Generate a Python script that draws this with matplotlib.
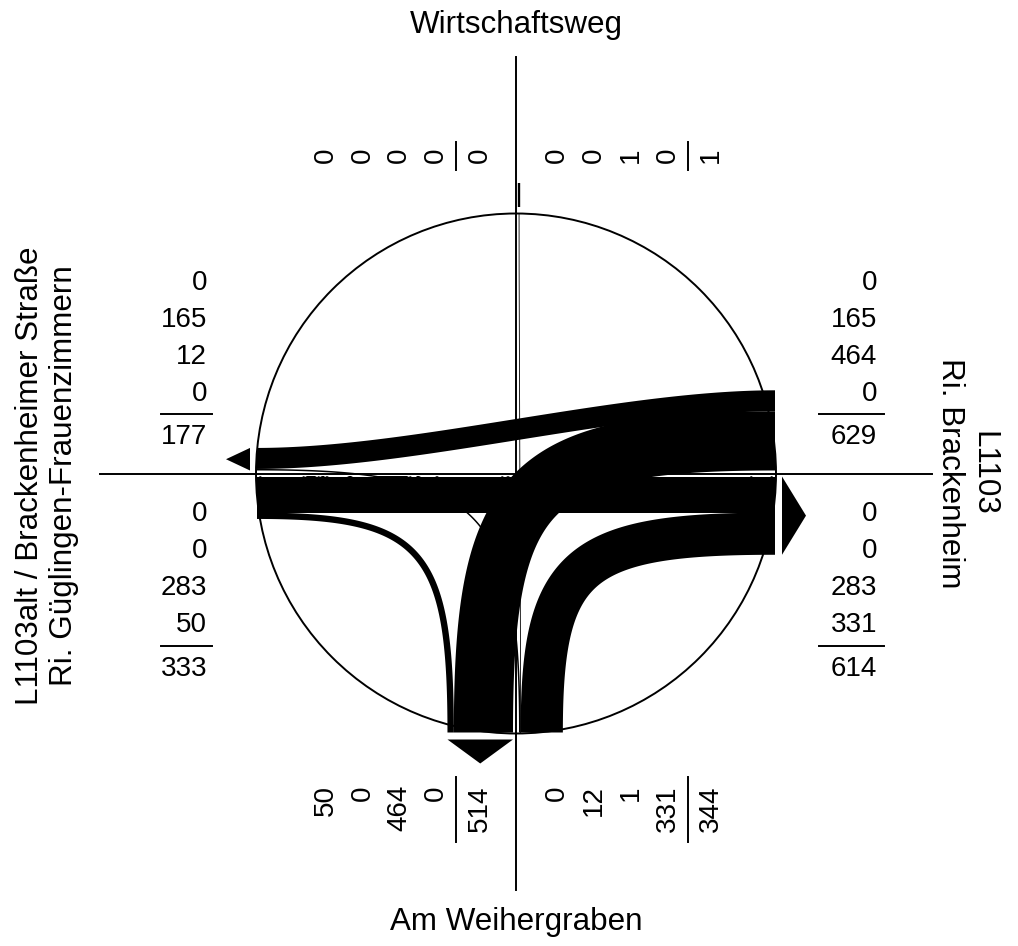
import numpy as np
import matplotlib
matplotlib.use("Agg")
import matplotlib.pyplot as plt
from matplotlib.patches import Polygon, Circle

plt.rcParams['font.family'] = ['Liberation Sans', 'DejaVu Sans']

# ---------------- data ----------------
arm_keys = ["N", "E", "S", "W"]          # clockwise order
title_N = ["Wirtschaftsweg"]
title_E = ["L1103", "Ri. Brackenheim"]
title_S = ["Am Weihergraben"]
title_W = ["L1103alt / Brackenheimer Straße", "Ri. Güglingen-Frauenzimmern"]

# entering volumes per arm, lane order (inner -> outer): U-turn, left, straight, right
enter_N = [0, 0, 0, 0]
enter_E = [0, 464, 165, 0]
enter_S = [0, 12, 1, 331]
enter_W = [0, 0, 283, 50]
enter = {"N": enter_N, "E": enter_E, "S": enter_S, "W": enter_W}

# ---------------- layout constants ----------------
W_PX, H_PX = 1018, 946
cx, cy = 516.0, 473.5
R_CIRCLE = 260.0
R_PORT = 259.0
GAP = 3.0
SCALE = 0.1275          # px per vehicle
K_TURN = 0.85
K_STRAIGHT = 0.30
LW = 1.4
NUM_SIZE = 20
TITLE_SIZE = 22.6

U = {"N": np.array([0.0, -1.0]), "E": np.array([1.0, 0.0]),
     "S": np.array([0.0, 1.0]), "W": np.array([-1.0, 0.0])}
V = {k: np.array([u[1], -u[0]]) for k, u in U.items()}   # entering side
C = np.array([cx, cy])

# flows: (from, to, turn) -> volume, derived from entering volumes
flows = {}
for i, a in enumerate(arm_keys):
    for t in range(4):
        b = arm_keys[(i + t) % 4]
        flows[(a, b, t)] = enter[a][t]

# exiting lanes per arm (inner -> outer): U, left arrivals, straight arrivals, right arrivals
exit_lanes = {}
for j, b in enumerate(arm_keys):
    exit_lanes[b] = [(arm_keys[(j - t) % 4], t) for t in range(4)]
exit_vals = {b: [flows[(a, b, t)] for (a, t) in exit_lanes[b]] for b in arm_keys}

# lane offsets
in_off, out_off = {}, {}
for a in arm_keys:
    cum = GAP
    for t in range(4):
        w = enter[a][t] * SCALE
        in_off[(a, t)] = cum + w / 2
        cum += w
for b in arm_keys:
    cum = GAP
    for (a, t) in exit_lanes[b]:
        w = flows[(a, b, t)] * SCALE
        out_off[(a, b, t)] = cum + w / 2
        cum += w

fig = plt.figure(figsize=(W_PX / 100, H_PX / 100), dpi=100)
ax = fig.add_axes([0, 0, 1, 1])
ax.set_xlim(0, W_PX)
ax.set_ylim(H_PX, 0)
ax.axis("off")

# circle and axes
ax.add_patch(Circle((cx, cy), R_CIRCLE, fill=False, ec="black", lw=LW, zorder=1))
ax.plot([100, 932], [cy, cy], color="black", lw=LW, zorder=1)
ax.plot([cx, cx], [57, 890], color="black", lw=LW, zorder=1)


def bezier_pts(P0, P1, P2, P3, n=300):
    t = np.linspace(0, 1, n)[:, None]
    B = ((1 - t) ** 3) * P0 + 3 * ((1 - t) ** 2) * t * P1 + 3 * (1 - t) * t ** 2 * P2 + t ** 3 * P3
    D = 3 * ((1 - t) ** 2) * (P1 - P0) + 6 * (1 - t) * t * (P2 - P1) + 3 * t ** 2 * (P3 - P2)
    return B, D


for (a, b, t), vol in flows.items():
    if vol <= 0:
        continue
    w = vol * SCALE
    P0 = C + R_PORT * U[a] + in_off[(a, t)] * V[a]
    d0 = -U[a]
    P3 = C + R_PORT * U[b] - out_off[(a, b, t)] * V[b]
    d3 = U[b]
    cross = d0[0] * d3[1] - d0[1] * d3[0]
    if abs(cross) < 1e-9:
        L = K_STRAIGHT * np.linalg.norm(P3 - P0)
        P1 = P0 + d0 * L
        P2 = P3 - d3 * L
    else:
        M = np.column_stack([d0, d3])
        aa, bb = np.linalg.solve(M, P3 - P0)
        P1 = P0 + K_TURN * aa * d0
        P2 = P3 - K_TURN * bb * d3
    B, D = bezier_pts(P0, P1, P2, P3)
    if w < 1.0:
        ax.plot(B[:, 0], B[:, 1], color="black", lw=0.6, zorder=2)
        continue
    nrm = np.column_stack([-D[:, 1], D[:, 0]])
    nrm /= np.linalg.norm(nrm, axis=1)[:, None]
    left = B + nrm * w / 2
    right = B - nrm * w / 2
    poly = np.vstack([left, right[::-1]])
    ax.add_patch(Polygon(poly, closed=True, fc="black", ec="none", zorder=2))

# exit arrows
for b in arm_keys:
    tot = sum(exit_vals[b]) * SCALE
    u, v = U[b], V[b]
    b1 = C + (R_PORT + 7) * u - GAP * v
    b2 = C + (R_PORT + 7) * u - (GAP + tot) * v
    tip = C + (R_PORT + 31) * u - (GAP + tot / 2) * v
    if tot < 2.0:
        mid = (b1 + b2) / 2
        ax.plot([mid[0], tip[0]], [mid[1], tip[1]], color="black", lw=1.7,
                solid_capstyle="butt", zorder=3)
    else:
        ax.add_patch(Polygon([b1, b2, tip], closed=True, fc="black", ec="none", zorder=3))

# ---------------- number labels ----------------
NEG_ROWS = [-193.5, -156.5, -120.0, -83.0]
NEG_LINE, NEG_TOT = -59.7, -39.5
POS_ROWS = [37.5, 74.5, 111.7, 148.5]
POS_LINE, POS_TOT = 172.0, 192.0
HALF_CAP = 10.0


def group_entries(arm):
    """returns (neg_vals, pos_vals) each ordered by coordinate (neg -> pos)"""
    ent = enter[arm]
    ext = exit_vals[arm]
    sign_enter = V[arm].sum()    # -1 -> entering on negative side
    if sign_enter < 0:
        neg, pos = ent, ext
    else:
        neg, pos = ext, ent
    return list(reversed(neg)), list(pos)


label_layout = {
    # horizontal arms: (text right x, line x0, line x1)
    "W": (207.0, 161.0, 212.0),
    "E": (877.0, 819.0, 884.0),
}
for arm, (xr, lx0, lx1) in label_layout.items():
    neg, pos = group_entries(arm)
    for rows, vals, lpos, tpos in [(NEG_ROWS, neg, NEG_LINE, NEG_TOT),
                                   (POS_ROWS, pos, POS_LINE, POS_TOT)]:
        for r, val in zip(rows, vals):
            ax.text(xr, cy + r + HALF_CAP, str(val), ha="right", va="baseline",
                    fontsize=NUM_SIZE)
        ax.plot([lx0, lx1], [cy + lpos, cy + lpos], color="black", lw=LW)
        ax.text(xr, cy + tpos + HALF_CAP, str(sum(vals)), ha="right", va="baseline",
                fontsize=NUM_SIZE)

vert_layout = {
    # vertical arms: (text anchor y, ha, line y0, line y1)
    "S": (785.0, "right", 777.0, 842.0),
    "N": (163.0, "left", 142.0, 170.0),
}
for arm, (ya, ha, ly0, ly1) in vert_layout.items():
    neg, pos = group_entries(arm)
    for rows, vals, lpos, tpos in [(NEG_ROWS, neg, NEG_LINE, NEG_TOT),
                                   (POS_ROWS, pos, POS_LINE, POS_TOT)]:
        for r, val in zip(rows, vals):
            ax.text(cx + r + HALF_CAP, ya, str(val), ha=ha, va="baseline",
                    rotation=90, rotation_mode="anchor", fontsize=NUM_SIZE)
        ax.plot([cx + lpos, cx + lpos], [ly0, ly1], color="black", lw=LW)
        ax.text(cx + tpos + HALF_CAP, ya, str(sum(vals)), ha=ha, va="baseline",
                rotation=90, rotation_mode="anchor", fontsize=NUM_SIZE)

# ---------------- arm titles ----------------
ax.text(cx, 32.5, title_N[0], ha="center", va="baseline", fontsize=TITLE_SIZE)
ax.text(cx, 930.0, title_S[0], ha="center", va="baseline", fontsize=TITLE_SIZE)
for xb, s in zip([38.5, 72.5], title_W):
    ax.text(xb, 476.0, s, ha="center", va="baseline", rotation=90,
            rotation_mode="anchor", fontsize=TITLE_SIZE)
for xb, s in zip([975.0, 942.0], title_E):
    ax.text(xb, 473.0, s, ha="center", va="baseline", rotation=270,
            rotation_mode="anchor", fontsize=TITLE_SIZE)

fig.savefig("out.png", dpi=100, facecolor="white")
